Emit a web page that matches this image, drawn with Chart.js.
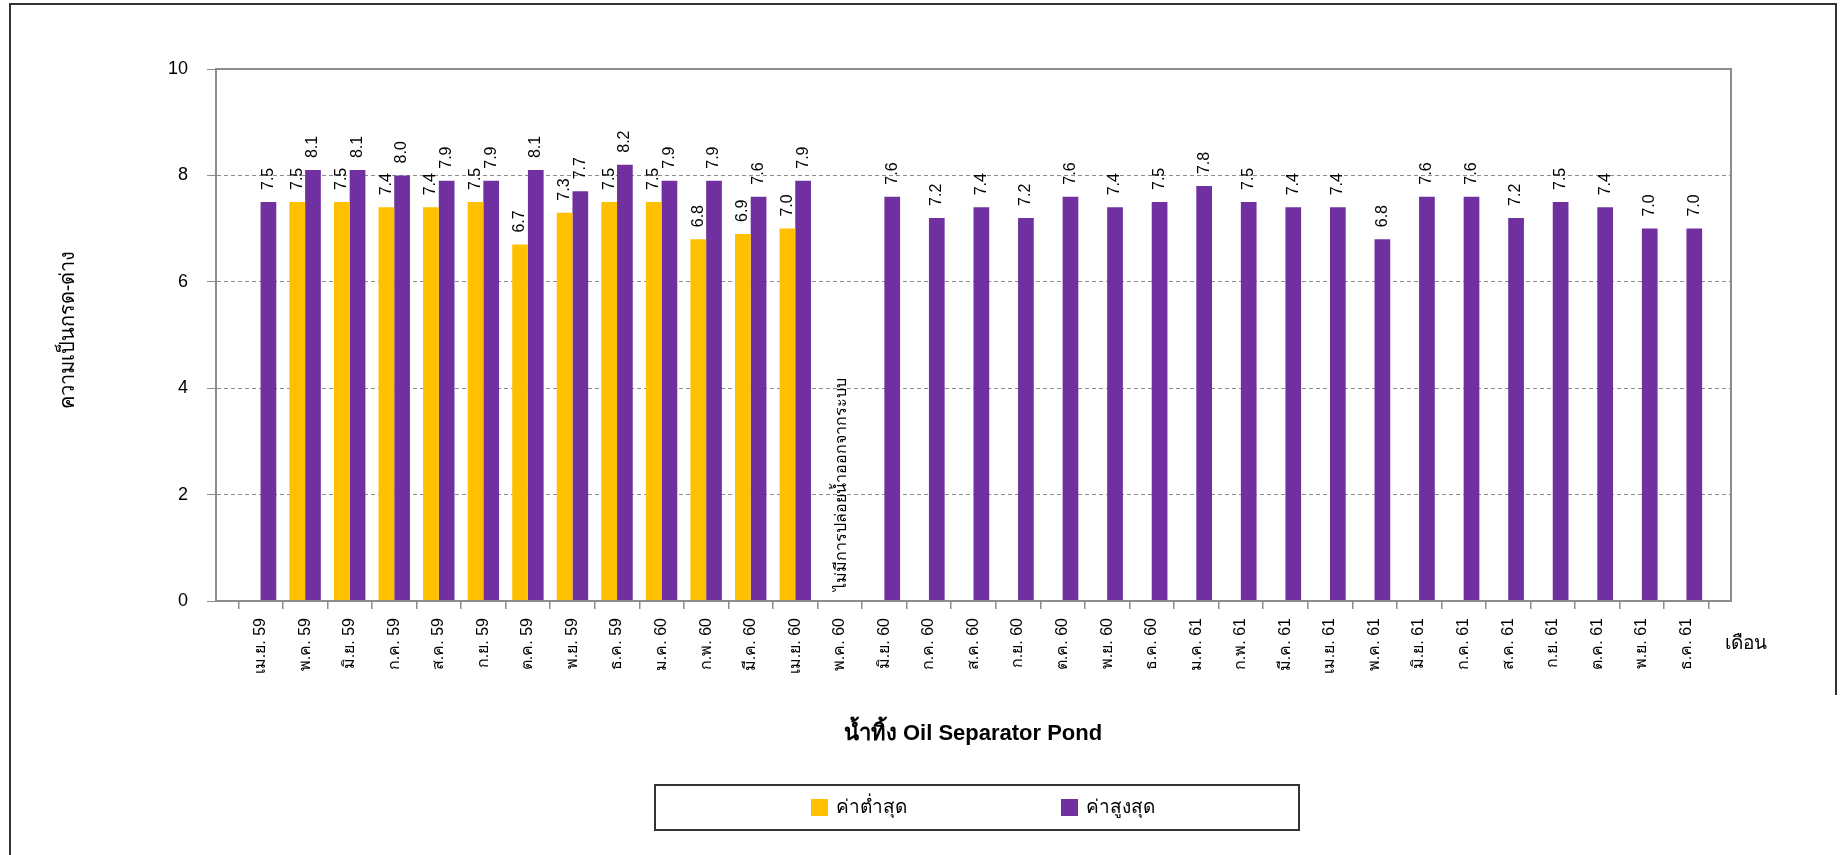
<!DOCTYPE html>
<html>
<head>
<meta charset="utf-8">
<script src="https://cdn.jsdelivr.net/npm/chart.js@4.4.1/dist/chart.umd.min.js"></script>
<style>
  html, body { margin: 0; padding: 0; background: #fff; }
  #wrap { width: 1843px; height: 855px; }
</style>
</head>
<body>
<div id="wrap"><canvas id="phChart" width="1843" height="855"></canvas></div>
<script>
// monthly pH of the oil separator pond effluent
const months = [
    'เม.ย. 59', 'พ.ค. 59', 'มิ.ย. 59', 'ก.ค. 59', 'ส.ค. 59', 'ก.ย. 59', 'ต.ค. 59', 'พ.ย. 59', 'ธ.ค. 59',
    'ม.ค. 60', 'ก.พ. 60', 'มี.ค. 60', 'เม.ย. 60', 'พ.ค. 60', 'มิ.ย. 60', 'ก.ค. 60', 'ส.ค. 60', 'ก.ย. 60',
    'ต.ค. 60', 'พ.ย. 60', 'ธ.ค. 60', 'ม.ค. 61', 'ก.พ. 61', 'มี.ค. 61', 'เม.ย. 61', 'พ.ค. 61', 'มิ.ย. 61',
    'ก.ค. 61', 'ส.ค. 61', 'ก.ย. 61', 'ต.ค. 61', 'พ.ย. 61', 'ธ.ค. 61'
];
const minValues = [
    null, 7.5, 7.5, 7.4, 7.4, 7.5, 6.7, 7.3, 7.5, 7.5, 6.8, 6.9, 7.0,
    null, null, null, null, null, null, null, null, null, null, null, null, null, null,
    null, null, null, null, null, null
];
const maxValues = [
    7.5, 8.1, 8.1, 8.0, 7.9, 7.9, 8.1, 7.7, 8.2, 7.9, 7.9, 7.6, 7.9,
    null, 7.6, 7.2, 7.4, 7.2, 7.6, 7.4, 7.5, 7.8, 7.5, 7.4, 7.4, 6.8, 7.6,
    7.6, 7.2, 7.5, 7.4, 7.0, 7.0
];
const seriesNames = ['ค่าต่ำสุด', 'ค่าสูงสุด'];
const seriesColors = ['#FFC000', '#7030A0'];
const yTicks = [0, 2, 4, 6, 8, 10];

const chartTitle = 'น้ำทิ้ง Oil Separator Pond';
const yTitle = 'ความเป็นกรด-ด่าง';
const xTitle = 'เดือน';
const noDischargeMonth = 'พ.ค. 60';
const noDischargeNote = 'ไม่มีการปล่อยน้ำออกจากระบบ';

const FONT = "'Liberation Sans', Arial, 'DejaVu Sans', sans-serif";
const GRID = '#8c8c8c';

Chart.defaults.font.family = FONT;
Chart.defaults.color = '#000';

// the axis has an empty slot at each end, so the first and last months sit one step in
const labels = ['', ...months, ''];
const pad = arr => [null, ...arr, null];

const decorPlugin = {
    id: 'decor',
    beforeDraw(chart) {
        const ctx = chart.ctx;
        ctx.save();
        ctx.fillStyle = '#fff';
        ctx.fillRect(0, 0, chart.width, chart.height);
        ctx.strokeStyle = '#333';
        ctx.lineWidth = 2;
        ctx.beginPath();
        ctx.moveTo(10, 860);
        ctx.lineTo(10, 4);
        ctx.lineTo(1836, 4);
        ctx.lineTo(1836, 695);
        ctx.stroke();
        ctx.restore();
    },
    afterDraw(chart) {
        const ctx = chart.ctx;
        const area = chart.chartArea;
        const xScale = chart.scales.x;

        ctx.save();
        // plot frame
        ctx.strokeStyle = GRID;
        ctx.lineWidth = 2;
        ctx.strokeRect(area.left, area.top, area.right - area.left, area.bottom - area.top);

        // value labels, rotated above each bar
        ctx.fillStyle = '#000';
        ctx.font = '16px ' + FONT;
        ctx.textAlign = 'left';
        ctx.textBaseline = 'middle';
        chart.data.datasets.forEach((ds, i) => {
            const meta = chart.getDatasetMeta(i);
            meta.data.forEach((bar, j) => {
                const v = ds.data[j];
                if (v === null || v === undefined) return;
                ctx.save();
                ctx.translate(bar.x, bar.y - 12);
                ctx.rotate(-Math.PI / 2);
                ctx.fillText(v.toFixed(1), 0, 0);
                ctx.restore();
            });
        });

        // note for the month with no discharge
        const nx = xScale.getPixelForValue(labels.indexOf(noDischargeMonth));
        ctx.save();
        ctx.translate(nx + 2, area.bottom - 10);
        ctx.rotate(-Math.PI / 2);
        ctx.font = '16px ' + FONT;
        ctx.fillText(noDischargeNote, 0, 0);
        ctx.restore();

        // axis titles
        ctx.font = '20px ' + FONT;
        ctx.save();
        ctx.translate(68, 330);
        ctx.rotate(-Math.PI / 2);
        ctx.textAlign = 'center';
        ctx.fillText(yTitle, 0, 0);
        ctx.restore();
        ctx.font = '19px ' + FONT;
        ctx.fillText(xTitle, 1725, 644);

        // chart title under the axis
        ctx.font = 'bold 22px ' + FONT;
        ctx.textAlign = 'center';
        ctx.fillText(chartTitle, 973, 734);

        // legend box
        ctx.strokeStyle = '#333';
        ctx.lineWidth = 2;
        ctx.strokeRect(655, 785, 644, 45);
        const legendX = [811, 1061];
        ctx.font = '19px ' + FONT;
        ctx.textAlign = 'left';
        chart.data.datasets.forEach((ds, i) => {
            ctx.fillStyle = ds.backgroundColor;
            ctx.fillRect(legendX[i], 799, 17, 17);
            ctx.fillStyle = '#000';
            ctx.fillText(ds.label, legendX[i] + 25, 808);
        });
        ctx.restore();
    }
};

new Chart(document.getElementById('phChart'), {
    type: 'bar',
    data: {
        labels: labels,
        datasets: [
            { label: seriesNames[0], data: pad(minValues), backgroundColor: seriesColors[0] },
            { label: seriesNames[1], data: pad(maxValues), backgroundColor: seriesColors[1] }
        ]
    },
    options: {
        responsive: false,
        animation: false,
        layout: { padding: { left: 0, top: 69, right: 112, bottom: 144 } },
        datasets: { bar: { categoryPercentage: 0.705, barPercentage: 1 } },
        plugins: {
            legend: { display: false },
            title: { display: false },
            tooltip: { enabled: false }
        },
        scales: {
            x: {
                offset: false,
                afterFit: s => { s.height = 110; },
                grid: {
                    drawOnChartArea: false,
                    drawTicks: true,
                    tickLength: 8,
                    color: GRID,
                    lineWidth: 1.5
                },
                border: { color: GRID, width: 2 },
                ticks: {
                    autoSkip: false,
                    minRotation: 90,
                    maxRotation: 90,
                    padding: 9,
                    font: { size: 16 }
                }
            },
            y: {
                min: 0,
                max: 10,
                afterFit: s => { s.width = 216; },
                afterBuildTicks: s => { s.ticks = yTicks.map(v => ({ value: v })); },
                grid: {
                    color: GRID,
                    lineWidth: 1,
                    tickLength: 9,
                    tickBorderDash: [],
                    tickColor: GRID
                },
                border: { color: GRID, width: 2, dash: [4, 3] },
                ticks: { padding: 19, font: { size: 18 } }
            }
        }
    },
    plugins: [decorPlugin]
});
</script>
</body>
</html>
